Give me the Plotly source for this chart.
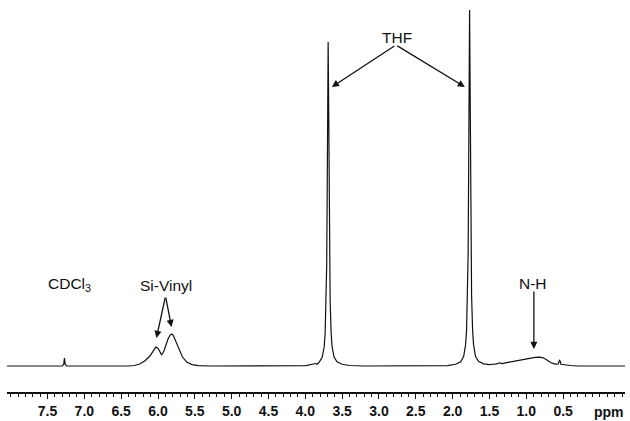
import plotly.graph_objects as go

# 1H NMR spectrum (chemical shift, relative intensity)
ppm = [8.05, 7.40, 7.30, 7.28, 7.27, 7.26, 7.24,
       6.40, 6.32, 6.25, 6.18, 6.11, 6.06, 6.03, 6.00, 5.97, 5.95, 5.92, 5.89,
       5.86, 5.83, 5.81, 5.79, 5.76, 5.72, 5.67, 5.61, 5.54, 5.45, 5.30,
       3.99, 3.88, 3.86, 3.84, 3.81, 3.77, 3.744, 3.731, 3.717, 3.710, 3.704,
       3.697, 3.690, 3.683, 3.676, 3.670, 3.663, 3.649, 3.636, 3.61, 3.57,
       3.50, 3.40, 3.20,
       2.20, 2.07, 1.96, 1.89, 1.85, 1.824, 1.811, 1.797, 1.790, 1.784, 1.777,
       1.770, 1.763, 1.756, 1.750, 1.743, 1.729, 1.716, 1.69, 1.65, 1.58,
       1.50, 1.45, 1.40, 1.36, 1.33, 1.25, 1.15, 1.05, 0.95, 0.88, 0.82,
       0.77, 0.72, 0.67, 0.61, 0.565, 0.55, 0.54, 0.53, 0.48, 0.40, 0.30, -0.34]
intensity = [0, 0, 0, 0.5, 2.2, 0.5, 0,
             0, 0.15, 0.55, 1.4, 2.8, 4.5, 5.3, 5.0, 4.0, 3.1, 4.2, 6.0,
             7.8, 8.8, 9.0, 8.5, 6.9, 4.8, 2.6, 1.1, 0.4, 0.1, 0,
             0.1, 0.55, 0.7, 0.5, 1.1, 2.5, 5.4, 9.1, 18.2, 28, 45.5,
             72.8, 91.0, 72.8, 45.5, 28, 18.2, 9.1, 5.4, 2.5, 1.2,
             0.5, 0.15, 0,
             0, 0.1, 0.5, 1.2, 2.7, 6, 10, 20, 30.8, 50, 80,
             100, 80, 50, 30.8, 20, 10, 6, 2.7, 1.3, 0.6,
             0.4, 0.5, 0.6, 0.9, 0.7, 1.0, 1.4, 1.8, 2.1, 2.4, 2.5,
             2.3, 1.7, 1.0, 0.55, 0.6, 1.6, 1.4, 0.5, 0.3, 0.15, 0, 0]

tick_vals = [7.5, 7.0, 6.5, 6.0, 5.5, 5.0, 4.5, 4.0, 3.5, 3.0, 2.5, 2.0, 1.5, 1.0, 0.5]
tick_text = ["7.5", "7.0", "6.5", "6.0", "5.5", "5.0", "4.5", "4.0", "3.5",
             "3.0", "2.5", "2.0", "1.5", "1.0", "0.5"]

fig = go.Figure()
fig.add_trace(go.Scatter(x=ppm, y=intensity, mode="lines",
                         line=dict(color="#111111", width=1.2),
                         hoverinfo="skip", showlegend=False))

FONT = "Liberation Sans, Arial, Helvetica, sans-serif"
afont = dict(family=FONT, size=15.5, color="#111111")

ann = []
# text labels
ann.append(dict(x=2.757, y=92.4, text="THF", showarrow=False, font=afont,
                xanchor="center", yanchor="middle"))
ann.append(dict(x=5.894, y=22.75, text="Si-Vinyl", showarrow=False, font=afont,
                xanchor="center", yanchor="middle"))
ann.append(dict(x=7.524, y=23.0, text="CDCl<sub>3</sub>", showarrow=False, font=afont,
                xanchor="left", yanchor="middle"))
ann.append(dict(x=0.911, y=23.3, text="N-H", showarrow=False, font=afont,
                xanchor="center", yanchor="middle"))
# arrows
arrows = [
    (5.898, 19.66, 6.021, 7.87),
    (5.898, 19.66, 5.817, 10.96),
    (2.771, 90.17, 3.640, 78.37),
    (2.771, 90.17, 1.834, 78.37),
    (0.897, 21.35, 0.897, 4.78),
]
for ax_, ay_, x_, y_ in arrows:
    ann.append(dict(x=x_, y=y_, ax=ax_, ay=ay_, xref="x", yref="y", axref="x", ayref="y",
                    text="", showarrow=True, arrowhead=2, arrowsize=1.1, arrowwidth=1.3,
                    arrowcolor="#111111", standoff=0, startstandoff=0))
# unit label
ann.append(dict(x=-0.121, y=-0.051, xref="x", yref="paper", text="<b>ppm</b>",
                showarrow=False, font=dict(family=FONT, size=14, color="#111111"),
                xanchor="center", yanchor="middle"))

fig.update_layout(
    width=630, height=421,
    margin=dict(l=7, r=5, t=0, b=29),
    paper_bgcolor="white", plot_bgcolor="white",
    annotations=ann,
    xaxis=dict(range=[8.05, -0.34], tickmode="array", tickvals=tick_vals, ticktext=tick_text,
               ticks="outside", ticklen=5, tickwidth=1.3, tickcolor="#111111",
               showline=True, linecolor="#111111", linewidth=1.5,
               showgrid=False, zeroline=False,
               tickfont=dict(family=FONT, size=14, color="#111111", weight="bold"),
               minor=dict(ticks="outside", ticklen=3, tickwidth=1, tickcolor="#111111",
                          dtick=0.1, tick0=0, showgrid=False)),
    yaxis=dict(range=[-7.30, 102.81], visible=False, showgrid=False, zeroline=False),
)

fig.write_html("out.html")
